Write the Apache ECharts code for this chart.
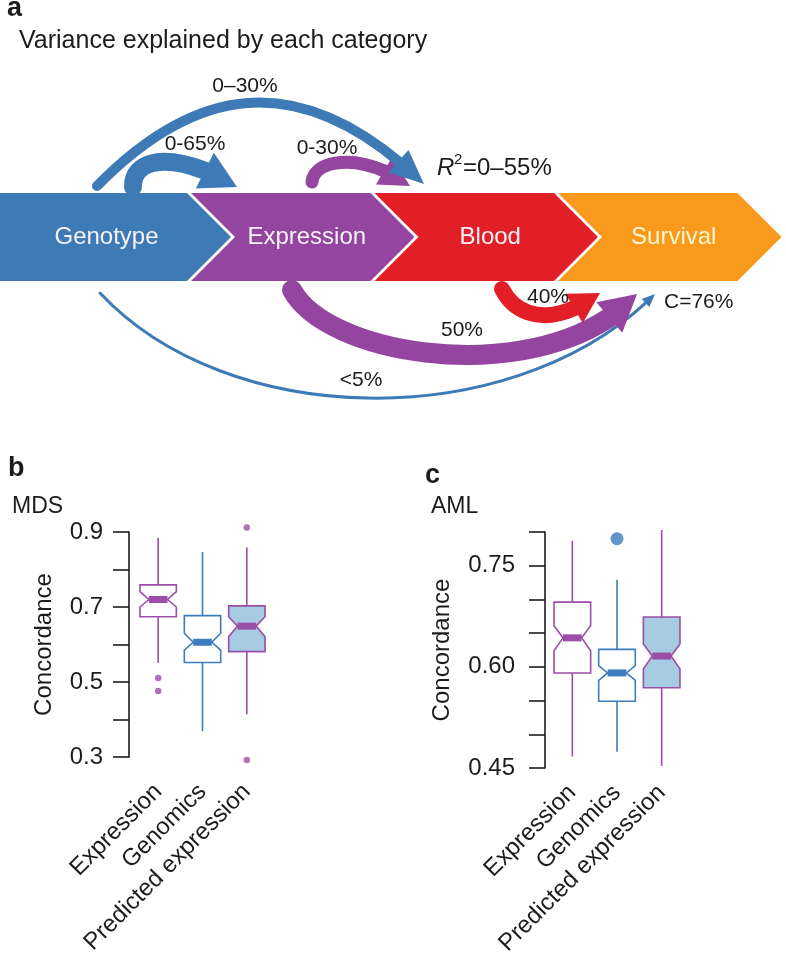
<!DOCTYPE html>
<html><head><meta charset="utf-8">
<script src="https://cdn.jsdelivr.net/npm/echarts@6/dist/echarts.min.js"></script>
<style>html,body{margin:0;padding:0;background:#fff}#c{width:786px;height:959px}</style>
</head><body><div id="c"></div>
<script>
// ---------- data ----------
const stages = ['Genotype', 'Expression', 'Blood', 'Survival'];
const flowLabels = ['0–30%', '0-65%', '0-30%', '<5%', '50%', '40%'];
const r2Text = '=0–55%';
const cText = 'C=76%';
const panelATitle = 'Variance explained by each category';

const categories = ['Expression', 'Genomics', 'Predicted expression'];
// [min, Q1, median, Q3, max]
const mdsStats = [[0.551, 0.674, 0.720, 0.759, 0.884], [0.369, 0.552, 0.606, 0.677, 0.847], [0.414, 0.581, 0.649, 0.703, 0.859]];
const mdsNotch = [[0.700, 0.741], [0.585, 0.630], [0.621, 0.674]];
const mdsOutliers = [[0, 0.511], [0, 0.476], [2, 0.912], [2, 0.292]];
const mdsTicks = [0.3, 0.5, 0.7, 0.9];

const amlStats = [[0.467, 0.591, 0.643, 0.696, 0.787], [0.474, 0.549, 0.591, 0.626, 0.729], [0.453, 0.569, 0.616, 0.674, 0.803]];
const amlNotch = [[0.624, 0.661], [0.580, 0.602], [0.597, 0.634]];
const amlOutliers = [[1, 0.790]];
const amlTicks = [0.45, 0.60, 0.75];

// ---------- styles ----------
const FONT = '"Liberation Sans", Arial, sans-serif';
const TXT = '#1c1c1c';
const BLUE = '#3e7bb6', PURPLE = '#93459f', RED = '#e21f26', ORANGE = '#f99a1c';
const stageColors = [BLUE, PURPLE, RED, ORANGE];
const boxPurple = '#9b4ea6', boxBlue = '#3b7dbd', lightBlue = '#a7cbe2';
const boxStroke = [boxPurple, boxBlue, boxPurple];
const boxFill = ['#ffffff', '#ffffff', lightBlue];

// ---------- helpers for panel a ----------
function lerp(a, b, t) { return [a[0] + (b[0] - a[0]) * t, a[1] + (b[1] - a[1]) * t]; }
function cubicPt(P, t) {
  const u = 1 - t;
  return [u*u*u*P[0][0] + 3*u*u*t*P[1][0] + 3*u*t*t*P[2][0] + t*t*t*P[3][0],
          u*u*u*P[0][1] + 3*u*u*t*P[1][1] + 3*u*t*t*P[2][1] + t*t*t*P[3][1]];
}
function splitCubic(P, t) {
  const p01 = lerp(P[0], P[1], t), p12 = lerp(P[1], P[2], t), p23 = lerp(P[2], P[3], t);
  const p012 = lerp(p01, p12, t), p123 = lerp(p12, p23, t);
  return [P[0], p01, p012, lerp(p012, p123, t)];
}
function tAtDist(P, d) {
  const tip = P[3]; let t = 1;
  while (t > 0) { t -= 0.001; const b = cubicPt(P, t); if (Math.hypot(b[0] - tip[0], b[1] - tip[1]) >= d) break; }
  return t;
}
function arrowEls(P, lw, headLen, headW, color, z) {
  const tip = P[3];
  const tb = tAtDist(P, headLen);
  const b = cubicPt(P, tb);
  const ts = tAtDist(P, headLen * 0.75 + lw / 2);
  const S = splitCubic(P, ts);
  let dx = tip[0] - b[0], dy = tip[1] - b[1]; const L = Math.hypot(dx, dy); dx /= L; dy /= L;
  const nx = -dy, ny = dx;
  return [
    { type: 'bezierCurve', z: z, shape: { x1: S[0][0], y1: S[0][1], cpx1: S[1][0], cpy1: S[1][1], cpx2: S[2][0], cpy2: S[2][1], x2: S[3][0], y2: S[3][1] },
      style: { stroke: color, lineWidth: lw, fill: null, lineCap: 'round' } },
    { type: 'polygon', z: z, shape: { points: [tip, [b[0] + nx * headW / 2, b[1] + ny * headW / 2], [b[0] - nx * headW / 2, b[1] - ny * headW / 2]] },
      style: { fill: color } }
  ];
}
function txt(x, y, text, size, opts) {
  opts = opts || {};
  return { type: 'text', x: x, y: y, z: 10,
    style: { text: text, font: (opts.weight || '') + ' ' + (opts.style || '') + ' ' + size + 'px ' + FONT,
      fill: opts.fill || TXT, textAlign: opts.align || 'left', textVerticalAlign: 'middle' } };
}

// ---------- panel a graphics ----------
const g = [];
g.push(txt(7, 9, 'a', 27, { weight: 'bold' }));
g.push(txt(19, 41, panelATitle, 25));

const chevTop = 193, chevBot = 281, chevMid = 237, depth = 44;
stages.forEach((s, i) => {
  const bL = i === 0 ? 0 : 189 + (i - 1) * 183.5 + 2;
  const bR = 189 + i * 183.5 - 2;
  const pts = [[bL, chevTop], [bR, chevTop], [bR + depth, chevMid], [bR, chevBot], [bL, chevBot]];
  if (i > 0) pts.push([bL + depth, chevMid]);
  g.push({ type: 'polygon', z: 1, shape: { points: pts }, style: { fill: stageColors[i] } });
  const cx = i === 0 ? (bR + depth) / 2 - 9 : (bL + bR + depth) / 2 + 4;
  g.push(txt(cx, chevMid, s, 24, { align: 'center', fill: i === 3 ? '#fff6cf' : '#f6f2f8' }));
});

// arrows (above the chevrons)
g.push(...arrowEls([[312, 182], [314, 158], [365, 152], [410, 186]], 13, 30, 32, PURPLE, 3));
g.push(...arrowEls([[97, 186], [205, 76], [310, 74], [424, 184]], 10, 34, 30, BLUE, 4));
g.push(...arrowEls([[133, 187], [132, 154], [182, 153], [237, 187]], 18, 36, 40, BLUE, 4));
// arrows (below the chevrons)
g.push(...arrowEls([[100, 293], [230, 432], [515, 434], [655, 294]], 3, 13, 11, BLUE, 3));
g.push(...arrowEls([[292, 290], [330, 360], [549, 390], [637, 294]], 20, 36, 40, PURPLE, 4));
g.push(...arrowEls([[502, 289], [515, 315], [550, 330], [600, 293]], 16, 30, 34, RED, 5));

g.push(txt(245, 86, flowLabels[0], 21, { align: 'center' }));
g.push(txt(195, 144, flowLabels[1], 21, { align: 'center' }));
g.push(txt(327, 148, flowLabels[2], 21, { align: 'center' }));
g.push(txt(361, 380, flowLabels[3], 21, { align: 'center' }));
g.push(txt(462, 330, flowLabels[4], 21, { align: 'center' }));
g.push(txt(548, 297, flowLabels[5], 21, { align: 'center' }));
g.push(txt(437, 168, 'R', 24, { style: 'italic' }));
g.push(txt(454, 160, '2', 15));
g.push(txt(463, 168, r2Text, 24));
g.push(txt(664, 302, cText, 21));

// panel b / c headers
g.push(txt(8, 469, 'b', 27, { weight: 'bold' }));
g.push(txt(12, 507, 'MDS', 23));
g.push(txt(425, 476, 'c', 27, { weight: 'bold' }));
g.push(txt(431, 507, 'AML', 23));

// ---------- box plots ----------
function renderBox(params, api) {
  const i = api.value(0);
  const y = k => api.coord([i, api.value(k)])[1];
  const xc = api.coord([i, api.value(1)])[0];
  const band = api.size([1, 0])[0];
  const hw = band * 0.41, inset = band * 0.2;
  const yMin = y(1), yQ1 = y(2), yMed = y(3), yQ3 = y(4), yMax = y(5), yNL = y(6), yNH = y(7);
  const Lx = xc - hw, Rx = xc + hw;
  const c = boxStroke[i];
  return { type: 'group', children: [
    { type: 'line', shape: { x1: xc, y1: yMax, x2: xc, y2: yQ3 }, style: { stroke: c, lineWidth: 1.6 } },
    { type: 'line', shape: { x1: xc, y1: yQ1, x2: xc, y2: yMin }, style: { stroke: c, lineWidth: 1.6 } },
    { type: 'polygon', shape: { points: [[Lx, yQ3], [Rx, yQ3], [Rx, yNH], [Rx - inset, yMed], [Rx, yNL], [Rx, yQ1], [Lx, yQ1], [Lx, yNL], [Lx + inset, yMed], [Lx, yNH]] },
      style: { fill: boxFill[i], stroke: c, lineWidth: 1.6 } },
    { type: 'rect', shape: { x: Lx + inset, y: yMed - 3.5, width: 2 * (hw - inset), height: 7 }, style: { fill: c } }
  ] };
}
function boxData(stats, notch) { return stats.map((s, i) => [i].concat(s, notch[i])); }
function tickFmt(ticks, dec) { return v => ticks.some(t => Math.abs(t - v) < 1e-6) ? v.toFixed(dec) : ''; }
function yAx(grid, min, max, interval, offset, margin, nameGap, ticks, dec) {
  return { gridIndex: grid, type: 'value', min: min, max: max, interval: interval, offset: offset,
    axisLine: { show: true, lineStyle: { color: TXT, width: 1.6 } },
    axisTick: { show: true, length: 16, lineStyle: { color: TXT, width: 1.6 } },
    axisLabel: { fontSize: 24, color: TXT, fontFamily: FONT, margin: margin, formatter: tickFmt(ticks, dec) },
    splitLine: { show: false },
    name: 'Concordance', nameLocation: 'middle', nameGap: nameGap,
    nameTextStyle: { fontSize: 24, color: TXT, fontFamily: FONT } };
}
function xAx(grid, margin) {
  return { gridIndex: grid, type: 'category', data: categories,
    axisLine: { show: false }, axisTick: { show: false },
    axisLabel: { rotate: 45, fontSize: 24, color: TXT, fontFamily: FONT, margin: margin, interval: 0 } };
}

const option = {
  animation: false,
  backgroundColor: '#fff',
  textStyle: { fontFamily: FONT },
  grid: [
    { left: 136, top: 532, width: 133, height: 225, outerBoundsMode: 'none', containLabel: false },
    { left: 550, top: 532, width: 134, height: 236, outerBoundsMode: 'none', containLabel: false }
  ],
  xAxis: [xAx(0, 31), xAx(1, 21)],
  yAxis: [
    yAx(0, 0.3, 0.9, 0.1, 7, 26, 73, mdsTicks, 1),
    yAx(1, 0.45, 0.80, 0.05, 5, 30, 91, amlTicks, 2)
  ],
  series: [
    { type: 'custom', xAxisIndex: 0, yAxisIndex: 0, renderItem: renderBox, clip: false, data: boxData(mdsStats, mdsNotch), encode: { x: 0, y: [1, 5] } },
    { type: 'scatter', xAxisIndex: 0, yAxisIndex: 0, clip: false, data: mdsOutliers, symbolSize: 6.5, itemStyle: { color: boxPurple } },
    { type: 'custom', xAxisIndex: 1, yAxisIndex: 1, renderItem: renderBox, clip: false, data: boxData(amlStats, amlNotch), encode: { x: 0, y: [1, 5] } },
    { type: 'scatter', xAxisIndex: 1, yAxisIndex: 1, clip: false, data: amlOutliers, symbolSize: 13, itemStyle: { color: boxBlue } }
  ],
  graphic: g
};
const chart = echarts.init(document.getElementById('c'));
chart.setOption(option);
</script>
</body></html>
